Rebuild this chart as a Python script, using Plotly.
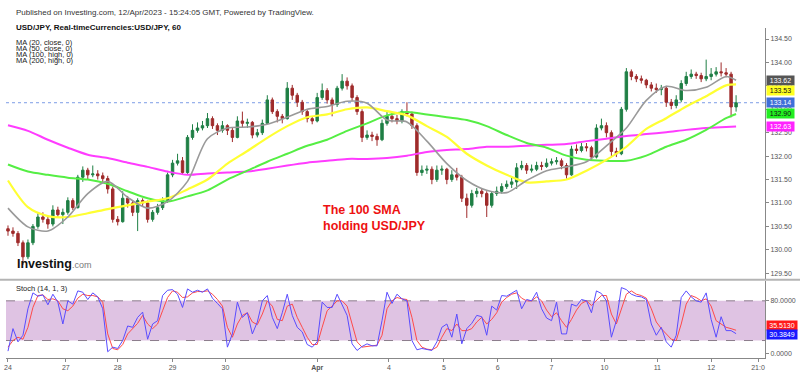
import plotly.graph_objects as go

# ---------------- data ----------------
bars = list(range(147))

opens = [130.45,130.40,130.35,130.15,129.85,130.15,130.50,130.70,130.65,130.55,
130.85,130.75,130.80,131.05,130.90,131.55,131.70,131.60,131.62,131.58,
131.52,131.30,130.65,130.60,131.10,131.00,130.80,131.05,131.00,130.65,
130.80,130.90,131.05,131.60,131.85,131.90,131.65,132.40,132.55,132.60,
132.65,132.80,132.65,132.55,132.65,132.55,132.40,132.75,132.70,132.72,
132.45,132.50,132.70,133.20,132.95,132.85,132.80,133.45,133.30,133.15,
132.95,132.80,132.75,133.25,133.40,133.20,133.10,133.45,133.60,133.50,
133.25,132.95,132.40,132.45,132.42,132.35,132.70,132.85,132.80,132.75,
132.95,132.90,132.65,131.65,131.70,131.72,131.50,131.70,131.72,131.50,
131.60,131.55,131.10,130.95,131.20,131.25,131.20,130.95,131.20,131.25,
131.35,131.40,131.45,131.75,131.80,131.70,131.72,131.80,131.78,131.85,
131.88,131.90,131.80,131.60,132.15,132.12,132.20,132.18,131.98,132.60,
132.65,132.50,132.10,132.05,133.00,133.80,133.70,133.65,133.62,133.52,
133.45,133.42,133.45,133.15,133.08,133.20,133.55,133.70,133.75,133.72,
133.65,133.70,133.75,133.80,133.78,133.75,133.05]

closes = [130.40,130.35,130.15,129.85,130.15,130.50,130.70,130.65,130.55,130.85,
130.75,130.80,131.05,130.90,131.55,131.70,131.60,131.62,131.58,131.52,
131.30,130.65,130.60,131.10,131.00,130.80,131.05,131.00,130.65,130.80,
130.90,131.05,131.60,131.85,131.90,131.65,132.40,132.55,132.60,132.65,
132.80,132.65,132.55,132.65,132.55,132.40,132.75,132.70,132.72,132.45,
132.50,132.70,133.20,132.95,132.85,132.80,133.45,133.30,133.15,132.95,
132.80,132.75,133.25,133.40,133.20,133.10,133.45,133.60,133.50,133.25,
132.95,132.40,132.45,132.42,132.35,132.70,132.85,132.80,132.75,132.95,
132.90,132.65,131.65,131.70,131.72,131.50,131.70,131.72,131.50,131.60,
131.55,131.10,130.95,131.20,131.25,131.20,130.95,131.20,131.25,131.35,
131.40,131.45,131.75,131.80,131.70,131.72,131.80,131.78,131.85,131.88,
131.90,131.80,131.60,132.15,132.12,132.20,132.18,131.98,132.60,132.65,
132.50,132.10,132.05,133.00,133.80,133.70,133.65,133.62,133.52,133.45,
133.42,133.45,133.15,133.08,133.20,133.55,133.70,133.75,133.72,133.65,
133.70,133.75,133.80,133.78,133.75,133.05,133.14]

highs = [130.52,130.48,130.40,130.20,130.22,130.55,130.78,130.80,130.70,130.95,
130.92,130.88,131.12,131.10,131.60,131.78,131.75,131.80,131.70,131.65,
131.58,131.35,130.72,131.25,131.15,131.05,131.10,131.10,131.05,130.85,
130.98,131.12,131.65,131.92,132.05,131.98,132.45,132.68,132.72,132.75,
132.92,132.85,132.70,132.75,132.68,132.60,132.85,132.95,132.80,132.75,
132.58,132.78,133.30,133.25,133.00,132.90,133.58,133.52,133.35,133.20,
133.00,132.85,133.35,133.55,133.45,133.25,133.50,133.75,133.68,133.55,
133.30,133.00,132.55,132.52,132.48,132.78,132.95,132.92,132.88,133.00,
133.15,132.95,132.70,131.80,131.80,131.78,131.80,131.80,131.75,131.70,
131.75,131.60,131.20,131.28,131.32,131.30,131.25,131.25,131.35,131.42,
131.48,131.55,131.85,131.90,131.85,131.82,131.88,131.88,131.95,131.95,
131.98,131.95,131.85,132.22,132.25,132.28,132.28,132.22,132.68,132.80,
132.72,132.55,132.18,133.05,133.88,133.85,133.75,133.72,133.65,133.58,
133.55,133.52,133.50,133.22,133.30,133.62,133.80,133.85,133.80,133.78,
134.06,133.88,133.90,134.00,133.88,133.80,133.30]

lows = [130.30,130.28,130.08,129.68,129.80,130.10,130.45,130.58,130.45,130.50,
130.68,130.55,130.75,130.85,130.88,131.45,131.50,131.55,131.50,131.45,
131.20,130.58,130.52,130.58,130.90,130.72,130.40,130.92,130.58,130.60,
130.75,130.85,131.00,131.55,131.80,131.60,131.62,132.35,132.50,132.55,
132.60,132.58,132.45,132.50,132.45,132.30,132.38,132.62,132.60,132.38,
132.40,132.45,132.68,132.90,132.72,132.70,132.78,133.20,133.05,132.88,
132.72,132.68,132.72,133.20,133.12,132.85,133.05,133.40,133.42,133.18,
132.88,132.30,132.35,132.32,132.22,132.32,132.65,132.72,132.68,132.70,
132.85,132.58,131.58,131.58,131.62,131.40,131.45,131.60,131.40,131.45,
131.48,131.02,130.68,130.90,131.12,131.12,130.70,130.90,131.15,131.20,
131.30,131.32,131.30,131.70,131.62,131.65,131.68,131.70,131.75,131.80,
131.82,131.72,131.52,131.58,132.05,132.08,132.10,131.90,131.95,132.55,
132.40,132.00,131.98,132.02,132.95,133.62,133.58,133.55,133.45,133.38,
133.35,133.30,133.05,133.00,133.02,133.15,133.50,133.65,133.65,133.58,
133.60,133.62,133.70,133.70,133.68,132.83,132.95]

ma_bars = [0,4,8,12,16,20,24,28,32,36,40,44,48,52,56,60,64,68,72,76,
           80,84,88,92,96,100,104,108,112,116,120,124,128,132,136,140,144,146]

ma20 = [130.89,130.49,130.40,130.70,131.20,131.46,131.12,130.89,131.03,131.46,
        132.37,132.60,132.62,132.68,132.83,133.00,133.06,133.17,133.13,132.77,
        132.73,132.32,131.84,131.48,131.27,131.22,131.48,131.69,131.77,131.88,
        132.22,132.60,133.19,133.49,133.40,133.47,133.70,133.62]
ma50 = [131.48,130.91,130.72,130.70,130.78,130.87,130.95,131.03,131.10,131.29,
        131.50,131.84,132.11,132.39,132.64,132.83,132.89,133.00,133.04,132.96,
        132.87,132.64,132.41,132.05,131.80,131.60,131.44,131.46,131.50,131.69,
        131.92,132.20,132.58,132.81,133.06,133.28,133.51,133.53]
ma100 = [131.82,131.67,131.60,131.54,131.50,131.41,131.25,131.10,131.03,131.14,
         131.27,131.50,131.69,131.88,132.05,132.22,132.35,132.54,132.70,132.87,
         132.94,132.89,132.83,132.77,132.64,132.45,132.28,132.18,132.01,131.92,
         131.90,131.90,132.01,132.20,132.35,132.56,132.81,132.90]
ma200 = [132.66,132.54,132.35,132.18,132.03,131.96,131.86,131.77,131.67,131.60,
         131.63,131.65,131.67,131.73,131.80,131.86,131.90,131.94,131.94,131.96,
         132.01,132.09,132.13,132.15,132.20,132.20,132.22,132.24,132.26,132.32,
         132.37,132.43,132.47,132.51,132.56,132.60,132.62,132.63]

stoch_k = [4,38,18,28,68,92,87,89,74,90,
78,45,80,75,95,93,82,92,86,68,
3,10,8,20,42,40,55,63,22,45,
50,88,96,97,90,70,98,93,96,93,
98,84,76,68,10,30,78,55,62,30,
48,80,88,55,38,62,90,58,40,33,
14,10,18,78,70,70,90,75,58,15,
5,11,15,12,12,50,93,76,90,83,
80,20,6,8,6,5,18,40,45,25,
60,15,38,46,58,56,28,72,66,88,
87,92,96,68,82,80,93,68,54,50,
78,30,30,75,72,82,80,62,95,91,
80,25,50,100,97,90,87,86,82,45,
28,40,18,10,28,85,95,86,80,78,
92,52,25,56,35,35,30.3849]

stoch_d = [10,20,25,22,40,70,88,89,82,83,
80,68,65,72,84,90,88,88,86,78,
30,8,6,14,30,38,46,58,45,38,
45,65,85,95,93,85,86,92,94,94,
95,90,82,72,40,25,45,58,62,48,
44,60,80,72,52,50,72,75,55,40,
25,14,14,40,65,72,80,80,72,45,
18,10,11,13,13,28,68,80,85,83,
82,55,20,10,7,6,10,25,38,35,
45,35,35,38,48,55,45,52,62,78,
85,90,92,84,80,80,86,80,66,56,
62,50,40,52,66,76,80,73,80,88,
88,60,45,68,90,95,90,88,84,68,
48,38,30,22,20,45,75,88,85,80,
83,72,50,45,40,38,35.5130]

day_pos = [0, 11.6, 22, 33, 43.6, 62, 76.4, 87.4, 98.2, 109, 119.6, 130.2, 141, 150.4]
day_labels = ["24", "27", "28", "29", "30", "<b>Apr</b>", "4", "5", "6", "7", "10", "11", "12", "21:0"]

price_ticks = [129.5, 130.0, 130.5, 131.0, 131.5, 132.0, 132.5, 133.0, 133.5, 134.0, 134.5]
last_price = 133.14

# ---------------- styling ----------------
FONT = "Liberation Sans, Arial, sans-serif"
GREEN_C = "#1f7f45"
RED_C = "#9f2b2b"
XR = [-0.4, 151.8]

fig = go.Figure()

fig.add_trace(go.Candlestick(
    x=bars, open=opens, high=highs, low=lows, close=closes,
    increasing=dict(line=dict(color=GREEN_C, width=1), fillcolor=GREEN_C),
    decreasing=dict(line=dict(color=RED_C, width=1), fillcolor=RED_C),
    whiskerwidth=0, showlegend=False, xaxis="x", yaxis="y", hoverinfo="skip"))

for vals, col, w in [(ma200, "#ff3cff", 2), (ma100, "#55ee44", 2),
                     (ma50, "#ffff33", 2.2), (ma20, "#9a9a9a", 1.6)]:
    fig.add_trace(go.Scatter(x=ma_bars, y=vals, mode="lines",
                             line=dict(color=col, width=w, shape="spline", smoothing=0.8),
                             showlegend=False, xaxis="x", yaxis="y", hoverinfo="skip"))

fig.add_trace(go.Scatter(x=bars, y=stoch_d, mode="lines",
                         line=dict(color="#ff4a4a", width=1), showlegend=False,
                         xaxis="x2", yaxis="y2", hoverinfo="skip"))
fig.add_trace(go.Scatter(x=bars, y=stoch_k, mode="lines",
                         line=dict(color="#5a4cff", width=1), showlegend=False,
                         xaxis="x2", yaxis="y2", hoverinfo="skip"))

shapes = [
    dict(type="rect", xref="x2 domain", yref="y2", x0=0, x1=1, y0=20, y1=80,
         fillcolor="#dfc3e3", line=dict(width=0), layer="below"),
    dict(type="line", xref="x2 domain", yref="y2", x0=0, x1=1, y0=80, y1=80,
         line=dict(color="#8c7c8c", width=1, dash="dash"), layer="below"),
    dict(type="line", xref="x2 domain", yref="y2", x0=0, x1=1, y0=20, y1=20,
         line=dict(color="#8c7c8c", width=1, dash="dash"), layer="below"),
    dict(type="line", xref="x domain", yref="y", x0=0, x1=1, y0=last_price, y1=last_price,
         line=dict(color="#7d9de6", width=1, dash="dot"), layer="below"),
    dict(type="line", xref="paper", yref="paper", x0=-0.01, x1=1.05, y0=0.2375, y1=0.2375,
         line=dict(color="#b4b4b4", width=2)),
]

ann = []
def txt(x, y, s, size=7.5, color="#222", bold=False, xanchor="left", **kw):
    ann.append(dict(xref="paper", yref="paper", x=x, y=y, text=("<b>%s</b>" % s) if bold else s,
                    showarrow=False, xanchor=xanchor, yanchor="middle",
                    font=dict(family=FONT, size=size, color=color), **kw))

txt(0.0105, 1.048, "Published on Investing.com, 12/Apr/2023 - 15:24:05 GMT, Powered by TradingView.", 8, "#333")
txt(0.0105, 1.003, "USD/JPY, Real-timeCurrencies:USD/JPY, 60", 8, "#111", bold=True)
for yy, s in [(0.956, "MA (20, close, 0)"), (0.938, "MA (50, close, 0)"),
              (0.920, "MA (100, high, 0)"), (0.901, "MA (200, high, 0)")]:
    txt(0.0105, yy, s, 7.5, "#222")
txt(0.0105, 0.210, "Stoch (14, 1, 3)", 7.5, "#222")
ann.append(dict(xref="paper", yref="paper", x=0.415, y=0.425, showarrow=False,
                xanchor="left", yanchor="middle", align="left",
                text="<b>The 100 SMA<br>holding USD/JPY</b>",
                font=dict(family=FONT, size=12.5, color="#ee1111")))
ann.append(dict(xref="paper", yref="paper", x=0.0115, y=0.285, showarrow=False,
                xanchor="left", yanchor="middle",
                text="<b>Investing</b><span style='font-size:9px;color:#7a7a7a'>.com</span>",
                font=dict(family=FONT, size=12.5, color="#111")))

def box(yref, y, s, bg, fc, w=27, yshift=0):
    ann.append(dict(xref="paper", yref=yref, x=1, y=y, xanchor="left", xshift=1, yshift=yshift,
                    text=s, showarrow=False, bgcolor=bg, width=w, height=9, borderpad=0,
                    align="center", font=dict(family=FONT, size=7, color=fc)))

box("y", ma20[-1], "%.2f" % ma20[-1], "#555555", "white")
box("y", ma50[-1], "%.2f" % ma50[-1], "#ffff22", "#111", yshift=-6)
box("y", last_price, "%.2f" % last_price, "#3f6fd9", "white")
box("y", ma100[-1], "%.2f" % ma100[-1], "#22ee22", "#111")
box("y", ma200[-1], "%.2f" % ma200[-1], "#ff22ff", "white")
box("y2", stoch_d[-1], "%.4f" % stoch_d[-1], "#ff1a1a", "white", w=30, yshift=5)
box("y2", stoch_k[-1], "%.4f" % stoch_k[-1], "#1a1aff", "white", w=30, yshift=-1)

axfont = dict(family=FONT, size=7, color="#555")
fig.update_layout(
    width=800, height=376,
    margin=dict(l=4, r=35, t=28, b=15),
    paper_bgcolor="white", plot_bgcolor="white",
    hovermode=False, showlegend=False,
    xaxis=dict(domain=[0, 1], range=XR, anchor="y", showticklabels=False,
               showgrid=False, zeroline=False, rangeslider=dict(visible=False), ticks=""),
    xaxis2=dict(domain=[0, 1], range=XR, anchor="y2", showgrid=False, zeroline=False,
                tickmode="array", tickvals=day_pos, ticktext=day_labels,
                ticks="outside", ticklen=3, tickcolor="#888",
                showline=True, linecolor="#888", linewidth=1, tickfont=axfont),
    yaxis=dict(domain=[0.24, 1], range=[129.381, 134.735], side="right", anchor="x",
               tickmode="array", tickvals=price_ticks,
               ticktext=["%.2f" % v for v in price_ticks],
               ticks="outside", ticklen=3, tickcolor="#888",
               showline=True, linecolor="#888", linewidth=1,
               showgrid=False, zeroline=False, tickfont=axfont),
    yaxis2=dict(domain=[0, 0.233], range=[-6.4, 109.8], side="right", anchor="x2",
                tickmode="array", tickvals=[0, 80], ticktext=["0.0000", "80.0000"],
                ticks="outside", ticklen=3, tickcolor="#888",
                showline=True, linecolor="#888", linewidth=1,
                showgrid=False, zeroline=False, tickfont=axfont),
    shapes=shapes, annotations=ann,
)

fig.write_html("out.html", config={"displayModeBar": False, "staticPlot": True},
               post_script="document.body.style.margin='0';document.body.style.overflow='hidden';")
